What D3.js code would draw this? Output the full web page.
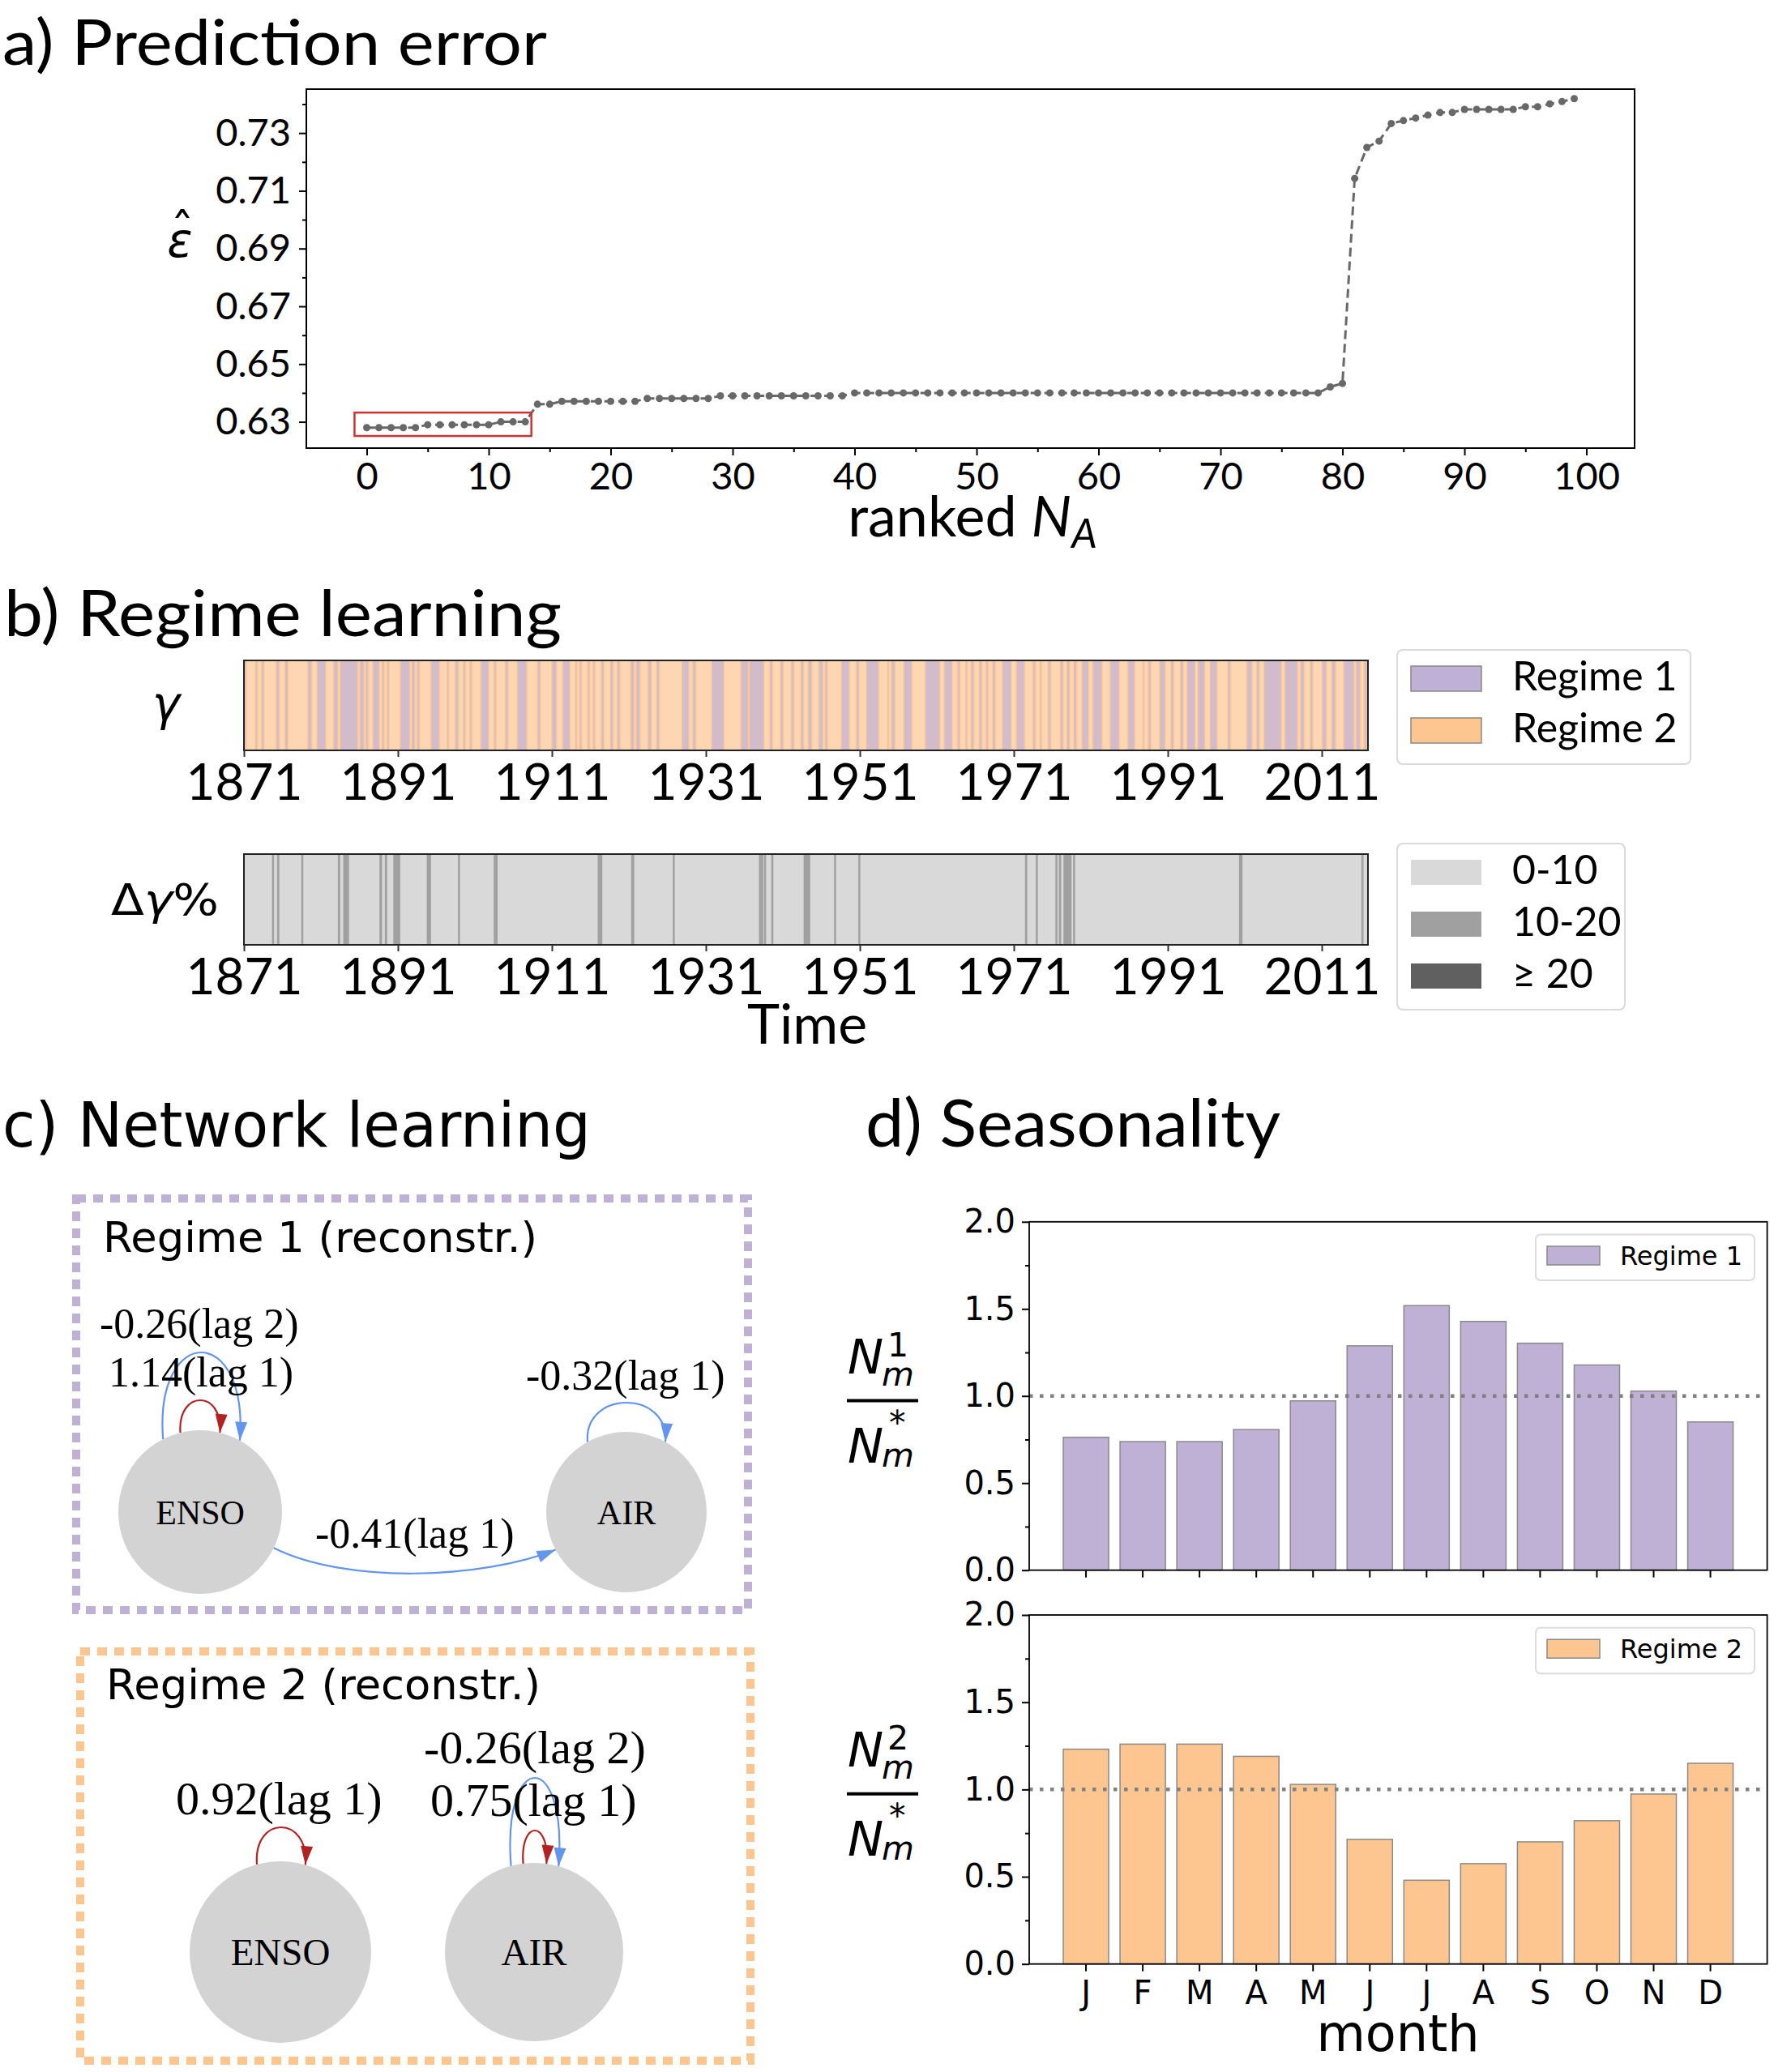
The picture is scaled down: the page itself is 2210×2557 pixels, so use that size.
<!DOCTYPE html>
<html>
<head>
<meta charset="utf-8">
<script src="https://cdn.jsdelivr.net/npm/d3@7"></script>
<style>
  body { margin: 0; background: #fff; }
</style>
</head>
<body>
<div id="chart"></div>
<script>
// ---------- data ----------

// a) prediction error, ranked by N_A (rank 0..99)
const predError = [
  0.628, 0.628, 0.628, 0.628, 0.628,
  0.629, 0.629, 0.629, 0.629, 0.629, 0.629,
  0.630, 0.630, 0.630,
  0.6361, 0.6361,
  0.6371, 0.6371, 0.6371, 0.6371, 0.6371, 0.6371, 0.6371,
  0.6381, 0.6381, 0.6381, 0.6381, 0.6381, 0.6381,
  0.639, 0.639, 0.639, 0.639, 0.639, 0.639, 0.639, 0.639, 0.639, 0.639, 0.639,
  0.640, 0.640, 0.640, 0.640, 0.640, 0.640, 0.640, 0.640, 0.640, 0.640,
  0.640, 0.640, 0.640, 0.640, 0.640, 0.640, 0.640, 0.640, 0.640, 0.640,
  0.640, 0.640, 0.640, 0.640, 0.640, 0.640, 0.640, 0.640, 0.640, 0.640,
  0.640, 0.640, 0.640, 0.640, 0.640, 0.640, 0.640, 0.640, 0.640,
  0.6421, 0.6433, 0.7143, 0.7250, 0.7272, 0.7333, 0.7343, 0.7352, 0.7362, 0.7371,
  0.7371, 0.7382, 0.7382, 0.7382, 0.7382, 0.7382, 0.7391, 0.7391, 0.7401, 0.7409,
  0.7419
];
const errXTicks = [0, 10, 20, 30, 40, 50, 60, 70, 80, 90, 100];
const errXMinor = [5, 15, 25, 35, 45, 55, 65, 75, 85, 95];
const errYTicks = [0.63, 0.65, 0.67, 0.69, 0.71, 0.73];
const errYMinor = [0.64, 0.66, 0.68, 0.70, 0.72, 0.74];
const highlightRank = [-1, 13.5];
const highlightErr = [0.6251, 0.6332];

// b) regime learning (years). Regime 2 fills everything not in regime1Spans
const yearTicks = [1871, 1891, 1911, 1931, 1951, 1971, 1991, 2011];
const regime1Spans = [
  [1871.05, 1871.3], [1872.5, 1872.75], [1873.3, 1873.6], [1875.2, 1875.6], [1876.35, 1876.7],
  [1879.3, 1879.8], [1880.5, 1881.65], [1882.65, 1883.2], [1883.5, 1885.8], [1886.05, 1886.6],
  [1886.85, 1887.15], [1887.75, 1888.6], [1888.95, 1889.2], [1889.6, 1889.85], [1891.3, 1892.55],
  [1892.8, 1893.2], [1893.5, 1893.8], [1895.3, 1896.4], [1897.4, 1897.6], [1898.45, 1898.85],
  [1899.5, 1899.75], [1900.35, 1900.6], [1901.75, 1902.8], [1903.5, 1903.75], [1904.95, 1905.3],
  [1906.5, 1907.75], [1909.15, 1909.5], [1911.0, 1911.6], [1912.4, 1913.35], [1914.05, 1914.25],
  [1914.6, 1914.85], [1915.65, 1915.9], [1916.35, 1916.6], [1917.4, 1917.75], [1918.6, 1918.95],
  [1919.5, 1919.85], [1921.25, 1921.65], [1921.95, 1922.45], [1923.5, 1923.9], [1924.6, 1924.95],
  [1927.9, 1928.8], [1929.3, 1929.7], [1931.75, 1933.35], [1935.55, 1936.5], [1936.65, 1938.55],
  [1939.3, 1939.65], [1940.7, 1941.05], [1942.1, 1942.45], [1943.35, 1943.7], [1944.3, 1944.75],
  [1945.65, 1946.2], [1946.5, 1946.8], [1948.6, 1949.65], [1950.55, 1950.9], [1951.85, 1953.45],
  [1954.6, 1954.75], [1955.1, 1955.55], [1956.7, 1957.75], [1959.5, 1961.4], [1961.95, 1963.0],
  [1963.7, 1964.0], [1964.75, 1964.95], [1965.45, 1965.8], [1966.5, 1966.85], [1967.4, 1967.65],
  [1968.25, 1968.6], [1969.5, 1970.65], [1971.35, 1972.4], [1973.5, 1973.8], [1974.4, 1974.6],
  [1975.45, 1975.8], [1977.05, 1977.4], [1977.9, 1978.25], [1978.8, 1979.15], [1979.85, 1980.7],
  [1981.25, 1982.45], [1983.5, 1984.7], [1985.8, 1986.7], [1987.75, 1987.9], [1988.45, 1988.8],
  [1989.95, 1990.65], [1991.4, 1991.75], [1992.65, 1993.0], [1993.5, 1994.55], [1994.9, 1995.8],
  [1996.5, 1997.4], [1998.8, 1999.15], [2001.25, 2001.95], [2002.55, 2002.9], [2003.5, 2005.75],
  [2006.2, 2007.85], [2008.25, 2008.7], [2009.5, 2009.85], [2011.05, 2011.6], [2012.3, 2012.8],
  [2013.85, 2015.2], [2015.45, 2016.0], [2016.5, 2016.85]
];
// months where the regime probability moved by 10-20 %; the rest is 0-10 %
const delta1020Spans = [
  [1874.65, 1874.85], [1875.3, 1875.6], [1878.45, 1878.7], [1883.2, 1883.5], [1883.9, 1884.65],
  [1888.6, 1888.95], [1889.3, 1889.6], [1890.4, 1891.3], [1894.75, 1895.3], [1898.8, 1899.05],
  [1903.45, 1903.95], [1916.95, 1917.55], [1921.3, 1921.7], [1926.7, 1926.85], [1937.9, 1938.45],
  [1938.55, 1938.7], [1939.5, 1939.7], [1943.7, 1944.55], [1947.65, 1947.9], [1950.8, 1951.05],
  [1972.45, 1972.75], [1973.85, 1974.1], [1976.4, 1976.6], [1976.85, 1977.15], [1977.45, 1978.5],
  [1978.7, 1978.9], [2000.25, 2000.7], [2016.15, 2016.4]
];
const regimeNames = ['Regime 1', 'Regime 2'];
const deltaClasses = ['0-10', '10-20', '\u2265 20'];

// c) reconstructed networks
const netNodes = ['ENSO', 'AIR'];
const links1 = [
  { source: 'ENSO', target: 'ENSO', value: -0.26, lag: 2 },
  { source: 'ENSO', target: 'ENSO', value: 1.14, lag: 1 },
  { source: 'AIR', target: 'AIR', value: -0.32, lag: 1 },
  { source: 'ENSO', target: 'AIR', value: -0.41, lag: 1 }
];
const links2 = [
  { source: 'ENSO', target: 'ENSO', value: 0.92, lag: 1 },
  { source: 'AIR', target: 'AIR', value: -0.26, lag: 2 },
  { source: 'AIR', target: 'AIR', value: 0.75, lag: 1 }
];

// d) seasonality N_m^k / N_m^*
const monthLabels = ['J', 'F', 'M', 'A', 'M', 'J', 'J', 'A', 'S', 'O', 'N', 'D'];
const season1 = [0.763, 0.738, 0.738, 0.807, 0.972, 1.288, 1.519, 1.428, 1.303, 1.178, 1.028, 0.851];
const season2 = [1.231, 1.260, 1.260, 1.190, 1.029, 0.714, 0.480, 0.575, 0.700, 0.821, 0.974, 1.150];
const seasonYTicks = [0, 0.5, 1, 1.5, 2];
const seasonYMinor = [0.25, 0.75, 1.25, 1.75];

// ---------- styling ----------
const purple = '#bfb0d5';
const orange = '#fdc590';
const calibriLike = 'Lato, "Open Sans", sans-serif';
const mplFont = '"DejaVu Sans", sans-serif';
const serif = '"Liberation Serif", "DejaVu Serif", serif';

const svg = d3.select('#chart')
  .append('svg')
  .attr('width', 2210)
  .attr('height', 2557)
  .attr('viewBox', '0 0 2210 2557')
  .style('background', '#fff');

function styleAxis(g, font, size, color) {
  g.attr('font-family', font).attr('font-size', size);
  g.select('.domain').remove();
  g.selectAll('.tick line').attr('stroke', color || '#000').attr('stroke-width', 2);
  g.selectAll('.tick text').attr('fill', '#000');
}

function title(text, x, y, font, size, len) {
  svg.append('text')
    .attr('x', x).attr('y', y)
    .attr('font-family', font).attr('font-size', size)
    .attr('textLength', len).attr('lengthAdjust', 'spacingAndGlyphs')
    .text(text);
}

// ================= a) Prediction error =================
title('a) Prediction error', 3, 80, calibriLike, 78, 672);

const ax = d3.scaleLinear().domain([-4.95, 103.95]).range([378, 2017]);
const ay = d3.scaleLinear().domain([0.6209, 0.7452]).range([553, 110]);
const gA = svg.append('g');

gA.append('g').attr('transform', 'translate(0,553)')
  .call(d3.axisBottom(ax).tickValues(errXTicks).tickSize(9).tickPadding(9))
  .call(g => styleAxis(g, calibriLike, 47));
gA.append('g').attr('transform', 'translate(0,553)')
  .call(d3.axisBottom(ax).tickValues(errXMinor).tickSize(5).tickFormat(''))
  .call(g => styleAxis(g, calibriLike, 47));
gA.append('g').attr('transform', 'translate(378,0)')
  .call(d3.axisLeft(ay).tickValues(errYTicks).tickSize(9).tickPadding(10).tickFormat(d3.format('.2f')))
  .call(g => styleAxis(g, calibriLike, 47));
gA.append('g').attr('transform', 'translate(378,0)')
  .call(d3.axisLeft(ay).tickValues(errYMinor).tickSize(5).tickFormat(''))
  .call(g => styleAxis(g, calibriLike, 47));

gA.append('rect')
  .attr('x', ax.range()[0]).attr('y', ay.range()[1])
  .attr('width', ax.range()[1] - ax.range()[0]).attr('height', ay.range()[0] - ay.range()[1])
  .attr('fill', 'none').attr('stroke', '#000').attr('stroke-width', 2);

gA.append('path')
  .datum(predError)
  .attr('fill', 'none')
  .attr('stroke', '#686868')
  .attr('stroke-width', 3)
  .attr('stroke-dasharray', '11,6')
  .attr('d', d3.line().x((d, i) => ax(i)).y(d => ay(d)));

gA.selectAll('.dot')
  .data(predError)
  .enter()
  .append('circle')
  .attr('class', 'dot')
  .attr('cx', (d, i) => ax(i))
  .attr('cy', d => ay(d))
  .attr('r', 4.5)
  .attr('fill', '#686868');

gA.append('rect')
  .attr('x', ax(highlightRank[0])).attr('y', ay(highlightErr[1]))
  .attr('width', ax(highlightRank[1]) - ax(highlightRank[0]))
  .attr('height', ay(highlightErr[0]) - ay(highlightErr[1]))
  .attr('fill', 'none').attr('stroke', '#cc3333').attr('stroke-width', 2.5);

// y label: epsilon with hat
gA.append('text').attr('x', 222).attr('y', 317).attr('text-anchor', 'middle')
  .attr('font-family', mplFont).attr('font-style', 'italic').attr('font-size', 58).text('\u03b5');
gA.append('text').attr('x', 225).attr('y', 305).attr('text-anchor', 'middle')
  .attr('font-family', mplFont).attr('font-size', 58).text('\u02c6');

const xLabA = gA.append('text').attr('x', 1200).attr('y', 662).attr('text-anchor', 'middle')
  .attr('font-family', calibriLike).attr('font-size', 70);
xLabA.append('tspan').text('ranked ');
xLabA.append('tspan').attr('font-style', 'italic').text('N');
xLabA.append('tspan').attr('font-style', 'italic').attr('font-size', 50).attr('dy', 14).text('A');

// ================= b) Regime learning =================
title('b) Regime learning', 5, 785, calibriLike, 80, 688);

const bx = d3.scaleLinear().domain([1871, 2017]).range([301, 1688]);
const strip1 = { top: 815, bottom: 926 };
const strip2 = { top: 1054, bottom: 1166 };
const gB = svg.append('g');

// regime strip
gB.append('rect')
  .attr('x', bx(1871)).attr('y', strip1.top)
  .attr('width', bx(2017) - bx(1871)).attr('height', strip1.bottom - strip1.top)
  .attr('fill', orange).attr('fill-opacity', 0.7);
gB.selectAll('.r1span')
  .data(regime1Spans)
  .enter()
  .append('rect')
  .attr('class', 'r1span')
  .attr('x', d => bx(d[0]))
  .attr('y', strip1.top)
  .attr('width', d => bx(d[1]) - bx(d[0]))
  .attr('height', strip1.bottom - strip1.top)
  .attr('fill', purple)
  .attr('fill-opacity', 0.7);
// darker orange seams where the month bars of regime 2 meet regime 1
gB.selectAll('.seam')
  .data(regime1Spans.flat())
  .enter()
  .append('line')
  .attr('class', 'seam')
  .attr('x1', d => bx(d)).attr('x2', d => bx(d))
  .attr('y1', strip1.top).attr('y2', strip1.bottom)
  .attr('stroke', orange).attr('stroke-opacity', 0.55).attr('stroke-width', 2);
gB.append('rect')
  .attr('x', bx(1871)).attr('y', strip1.top)
  .attr('width', bx(2017) - bx(1871)).attr('height', strip1.bottom - strip1.top)
  .attr('fill', 'none').attr('stroke', '#222').attr('stroke-width', 2);

// change strip
gB.append('rect')
  .attr('x', bx(1871)).attr('y', strip2.top)
  .attr('width', bx(2017) - bx(1871)).attr('height', strip2.bottom - strip2.top)
  .attr('fill', '#d9d9d9');
gB.selectAll('.dspan')
  .data(delta1020Spans)
  .enter()
  .append('rect')
  .attr('class', 'dspan')
  .attr('x', d => bx(d[0]))
  .attr('y', strip2.top)
  .attr('width', d => Math.max(2.5, bx(d[1]) - bx(d[0])))
  .attr('height', strip2.bottom - strip2.top)
  .attr('fill', '#a0a0a0');
gB.append('rect')
  .attr('x', bx(1871)).attr('y', strip2.top)
  .attr('width', bx(2017) - bx(1871)).attr('height', strip2.bottom - strip2.top)
  .attr('fill', 'none').attr('stroke', '#222').attr('stroke-width', 2);

[strip1, strip2].forEach(s => {
  gB.append('g').attr('transform', `translate(0,${s.bottom})`)
    .call(d3.axisBottom(bx).tickValues(yearTicks).tickSize(8).tickPadding(9).tickFormat(d3.format('d')))
    .call(g => styleAxis(g, calibriLike, 62, '#333'));
});

gB.append('text').attr('x', 205).attr('y', 889).attr('text-anchor', 'middle')
  .attr('font-family', mplFont).attr('font-size', 58).attr('font-style', 'italic').text('\u03b3');
const dLab = gB.append('text').attr('x', 137).attr('y', 1129)
  .attr('font-family', mplFont).attr('font-size', 54)
  .attr('textLength', 133).attr('lengthAdjust', 'spacingAndGlyphs');
dLab.append('tspan').text('\u0394');
dLab.append('tspan').attr('font-style', 'italic').text('\u03b3');
dLab.append('tspan').text('%');

gB.append('text').attr('x', 996).attr('y', 1288).attr('text-anchor', 'middle')
  .attr('font-family', calibriLike).attr('font-size', 68).text('Time');

// legends
function stripLegend(x0, y0, w, h, items, colors, edge, rowTops, font) {
  const lg = gB.append('g');
  lg.append('rect').attr('x', x0).attr('y', y0).attr('width', w).attr('height', h)
    .attr('rx', 7).attr('fill', '#fff').attr('stroke', '#dadada').attr('stroke-width', 2);
  items.forEach((name, i) => {
    lg.append('rect').attr('x', 1741).attr('y', rowTops[i]).attr('width', 87).attr('height', 31)
      .attr('fill', colors[i]).attr('stroke', edge ? '#888' : 'none').attr('stroke-width', 1.5);
    lg.append('text').attr('x', 1866).attr('y', rowTops[i] + 30)
      .attr('font-family', calibriLike).attr('font-size', font).text(name);
  });
}
stripLegend(1724, 802, 362, 141, regimeNames, [purple, orange], true, [822, 886], 50);
stripLegend(1724, 1041, 281, 205, deltaClasses, ['#d9d9d9', '#a0a0a0', '#606060'], false, [1061, 1125, 1189], 50);

// ================= c) Network learning =================
title('c) Network learning', 3, 1415, mplFont, 76, 726);

const gC = svg.append('g');
gC.append('rect').attr('x', 94).attr('y', 1479).attr('width', 829).attr('height', 508)
  .attr('fill', 'none').attr('stroke', purple).attr('stroke-width', 10).attr('stroke-dasharray', '12,9');
gC.append('rect').attr('x', 99).attr('y', 2038).attr('width', 827).attr('height', 505)
  .attr('fill', 'none').attr('stroke', orange).attr('stroke-width', 10).attr('stroke-dasharray', '12,9');
gC.append('text').attr('x', 127).attr('y', 1545).attr('font-family', mplFont).attr('font-size', 52)
  .attr('textLength', 536).attr('lengthAdjust', 'spacingAndGlyphs').text('Regime 1 (reconstr.)');
gC.append('text').attr('x', 131).attr('y', 2097).attr('font-family', mplFont).attr('font-size', 52)
  .attr('textLength', 536).attr('lengthAdjust', 'spacingAndGlyphs').text('Regime 2 (reconstr.)');

const defs = svg.append('defs');
[['arrowRed', '#b22222'], ['arrowBlue', '#6495ed']].forEach(([id, c]) => {
  defs.append('marker')
    .attr('id', id)
    .attr('viewBox', '-24 -8 25 16')
    .attr('refX', 0).attr('refY', 0)
    .attr('markerWidth', 25).attr('markerHeight', 16)
    .attr('markerUnits', 'userSpaceOnUse')
    .attr('orient', 'auto')
    .append('path')
    .attr('d', 'M0,0 L-23,-7.5 L-23,7.5 Z')
    .attr('fill', c);
});

// layout of each graph (node centres/radii, loop shape, label anchors)
const netLayout = [
  {
    links: links1, nodeFont: 42, labelFont: 52,
    pos: { ENSO: { x: 247, y: 1866, r: 101 }, AIR: { x: 773, y: 1866, r: 99 } },
    geom: [
      { a0: -27, a1: 29, h: 197, lx: 123, ly: 1651 },
      { a0: -14, a1: 14, h: 138, lx: 134, ly: 1711 },
      { a0: -29, a1: 29, h: 135, lx: 649, ly: 1715 },
      { a0: 116, a1: -118, bend: 45, lx: 389, ly: 1910 }
    ]
  },
  {
    links: links2, nodeFont: 47, labelFont: 58,
    pos: { ENSO: { x: 346, y: 2409, r: 112 }, AIR: { x: 659, y: 2409, r: 110 } },
    geom: [
      { a0: -15, a1: 16, h: 154, lx: 217, ly: 2239 },
      { a0: -15, a1: 16, h: 215, lx: 523, ly: 2176 },
      { a0: -7, a1: 8, h: 150, lx: 531, ly: 2241 }
    ]
  }
];

function onCircle(n, deg) {
  const a = deg * Math.PI / 180;
  return [n.x + n.r * Math.sin(a), n.y - n.r * Math.cos(a)];
}

netLayout.forEach(net => {
  const g = gC.append('g');
  netNodes.forEach(name => {
    const n = net.pos[name];
    g.append('circle').attr('cx', n.x).attr('cy', n.y).attr('r', n.r).attr('fill', '#d3d3d3');
    g.append('text').attr('x', n.x).attr('y', n.y).attr('dy', '0.35em').attr('text-anchor', 'middle')
      .attr('font-family', serif).attr('font-size', net.nodeFont).text(name);
  });
  net.links.forEach((l, i) => {
    const geo = net.geom[i];
    const color = l.value > 0 ? '#b22222' : '#6495ed';
    const p = d3.path();
    if (l.source === l.target) {
      const n = net.pos[l.source];
      const s = onCircle(n, geo.a0), e = onCircle(n, geo.a1);
      const apex = n.y - geo.h;
      const y0 = (s[1] + e[1]) / 2;
      const hc = (apex - 0.25 * y0) / 0.75;
      const spread = 0.1 * (y0 - apex);
      p.moveTo(s[0], s[1]);
      p.bezierCurveTo(s[0] - spread, hc, e[0] + spread, hc, e[0], e[1]);
    } else {
      const s = onCircle(net.pos[l.source], geo.a0);
      const e = onCircle(net.pos[l.target], geo.a1);
      p.moveTo(s[0], s[1]);
      p.bezierCurveTo(s[0] + 90, s[1] + geo.bend, e[0] - 90, e[1] + geo.bend * 0.8, e[0], e[1]);
    }
    g.append('path').attr('d', p.toString()).attr('fill', 'none')
      .attr('stroke', color).attr('stroke-width', 2.2)
      .attr('marker-end', `url(#${l.value > 0 ? 'arrowRed' : 'arrowBlue'})`);
  });
  net.links.forEach((l, i) => {
    const geo = net.geom[i];
    g.append('text').attr('x', geo.lx).attr('y', geo.ly)
      .attr('font-family', serif).attr('font-size', net.labelFont)
      .text(`${l.value.toFixed(2)}(lag ${l.lag})`);
  });
});

// ================= d) Seasonality =================
title('d) Seasonality', 1068, 1415, calibriLike, 82, 512);

const dx = d3.scaleBand().domain(d3.range(12)).range([1270, 2180.6]).paddingInner(0.2).paddingOuter(0.6);

function seasonPanel(values, color, top, bottom, legendName, regimeNo, showMonths) {
  const g = svg.append('g');
  const y = d3.scaleLinear().domain([0, 2]).range([bottom, top]);

  g.append('g').attr('transform', `translate(1270,0)`)
    .call(d3.axisLeft(y).tickValues(seasonYTicks).tickSize(9).tickPadding(8).tickFormat(d3.format('.1f')))
    .call(a => styleAxis(a, mplFont, 40));
  g.append('g').attr('transform', `translate(1270,0)`)
    .call(d3.axisLeft(y).tickValues(seasonYMinor).tickSize(5).tickFormat(''))
    .call(a => styleAxis(a, mplFont, 40));
  g.append('g').attr('transform', `translate(0,${bottom})`)
    .call(d3.axisBottom(dx).tickSize(9).tickPadding(12).tickFormat(i => showMonths ? monthLabels[i] : ''))
    .call(a => styleAxis(a, mplFont, 40));

  g.selectAll('.bar')
    .data(values)
    .enter()
    .append('rect')
    .attr('class', 'bar')
    .attr('x', (d, i) => dx(i))
    .attr('y', d => y(d))
    .attr('width', dx.bandwidth())
    .attr('height', d => y(0) - y(d))
    .attr('fill', color)
    .attr('stroke', '#8a8a8a')
    .attr('stroke-width', 1.5);

  g.append('line')
    .attr('x1', 1270).attr('x2', 2180.6)
    .attr('y1', y(1)).attr('y2', y(1))
    .attr('stroke', '#808080').attr('stroke-width', 4.5).attr('stroke-dasharray', '4.5,8.5');

  g.append('rect').attr('x', 1270).attr('y', top).attr('width', 910.6).attr('height', bottom - top)
    .attr('fill', 'none').attr('stroke', '#000').attr('stroke-width', 1.8);

  // legend
  const ly = top + 15.7;
  g.append('rect').attr('x', 1895).attr('y', ly).attr('width', 270).attr('height', 56.5)
    .attr('rx', 6).attr('fill', '#fff').attr('stroke', '#dcdcdc').attr('stroke-width', 2);
  g.append('rect').attr('x', 1909).attr('y', ly + 14.5).attr('width', 65).attr('height', 23)
    .attr('fill', color).attr('stroke', '#888').attr('stroke-width', 1.5);
  g.append('text').attr('x', 1999).attr('y', ly + 37).attr('font-family', mplFont).attr('font-size', 32)
    .text(legendName);

  // y label  N_m^k / N_m^*
  const fy = top + 220.8;
  const lab = g.append('g').attr('font-family', mplFont);
  lab.append('text').attr('x', 1046).attr('y', fy - 34).attr('font-size', 59).attr('font-style', 'italic').text('N');
  lab.append('text').attr('x', 1095).attr('y', fy - 55).attr('font-size', 41).text(regimeNo);
  lab.append('text').attr('x', 1088).attr('y', fy - 19).attr('font-size', 41).attr('font-style', 'italic').text('m');
  lab.append('line').attr('x1', 1045).attr('x2', 1133).attr('y1', fy).attr('y2', fy)
    .attr('stroke', '#000').attr('stroke-width', 4);
  lab.append('text').attr('x', 1046).attr('y', fy + 76).attr('font-size', 59).attr('font-style', 'italic').text('N');
  lab.append('text').attr('x', 1097).attr('y', fy + 41).attr('font-size', 41).text('*');
  lab.append('text').attr('x', 1088).attr('y', fy + 81).attr('font-size', 41).attr('font-style', 'italic').text('m');
}

seasonPanel(season1, purple, 1507.8, 1937.7, regimeNames[0], '1', false);
seasonPanel(season2, orange, 1993, 2423.7, regimeNames[1], '2', true);

svg.append('text').attr('x', 1725).attr('y', 2531).attr('text-anchor', 'middle')
  .attr('font-family', mplFont).attr('font-size', 62).text('month');
</script>
</body>
</html>
